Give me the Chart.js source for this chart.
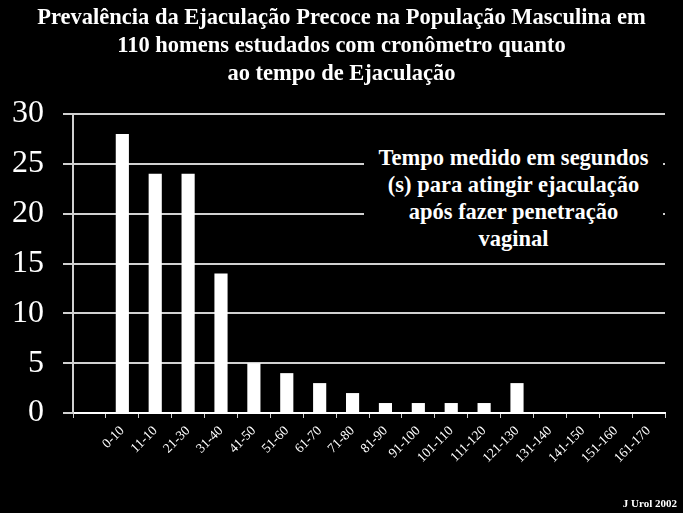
<!DOCTYPE html>
<html lang="pt-br">
<head>
<meta charset="UTF-8">
<title>Prevalência da Ejaculação Precoce</title>
<style>
    body { margin: 0; background: #000; }
    .wrap { position: relative; width: 683px; height: 513px; background: #000; }
    .title {
        position: absolute; left: 0; top: 3px; width: 683px;
        text-align: center; color: #fff;
        font: bold 22.5px "Liberation Serif", "Times New Roman", serif;
        line-height: 28px;
    }
    .note {
        position: absolute; left: 364px; top: 128px; width: 299px; height: 112px;
        padding-top: 16px;
        background: #000;
        text-align: center; color: #fff;
        font: bold 22.5px "Liberation Serif", "Times New Roman", serif;
        line-height: 27px;
    }
    .source {
        position: absolute; right: 6px; top: 497px; color: #fff;
        font: bold 11px "Liberation Serif", "Times New Roman", serif;
    }
    canvas { position: absolute; left: 0; top: 0; }
</style>
<script src="https://cdn.jsdelivr.net/npm/chart.js"></script>
</head>
<body>
<div class="wrap">
    <canvas id="chart" width="683" height="513"></canvas>
    <div class="title">Prevalência da Ejaculação Precoce na População Masculina em<br>110 homens estudados com cronômetro quanto<br>ao tempo de Ejaculação</div>
    <div class="note">Tempo medido em segundos<br>(s) para atingir ejaculação<br>após fazer penetração<br>vaginal</div>
    <div class="source">J Urol 2002</div>
</div>
<script>
// intervalos de tempo (s); o primeiro espaço do eixo fica vazio
const categorias = ['', '0-10', '11-10', '21-30', '31-40', '41-50', '51-60', '61-70', '71-80',
    '81-90', '91-100', '101-110', '111-120', '121-130', '131-140', '141-150', '151-160', '161-170'];
const homens = [null, 28, 24, 24, 14, 5, 4, 3, 2, 1, 1, 1, 1, 3, 0, 0, 0, 0];
const yTicks = [0, 5, 10, 15, 20, 25, 30];

const serif = '"Liberation Serif", "Times New Roman", serif';

new Chart(document.getElementById('chart'), {
    type: 'bar',
    data: {
        labels: categorias,
        datasets: [{
            data: homens,
            backgroundColor: '#ffffff',
            borderWidth: 0,
            barPercentage: 0.4,
            categoryPercentage: 1
        }]
    },
    options: {
        responsive: false,
        animation: false,
        layout: { padding: { top: 114, right: 18, left: 0, bottom: 0 } },
        plugins: { legend: { display: false }, tooltip: { enabled: false } },
        scales: {
            x: {
                offset: true,
                grid: { display: true, drawOnChartArea: false, color: '#cccccc', lineWidth: 1, tickLength: 5, offset: true },
                border: { color: '#ffffff', width: 2 },
                ticks: {
                    color: '#ffffff', font: { family: serif, size: 13.5 },
                    minRotation: 45, maxRotation: 45, autoSkip: false, padding: 5
                },
                afterFit: s => { s.height = 100; }
            },
            y: {
                min: 0, max: 30,
                afterBuildTicks: s => { s.ticks = yTicks.map(v => ({ value: v })); },
                grid: { color: '#d0d0d0', lineWidth: 2, tickLength: 10 },
                border: { color: '#d0d0d0', width: 2 },
                ticks: { color: '#ffffff', font: { family: serif, size: 32 }, padding: 19 },
                afterFit: s => { s.width = 73; }
            }
        }
    }
});
</script>
</body>
</html>
